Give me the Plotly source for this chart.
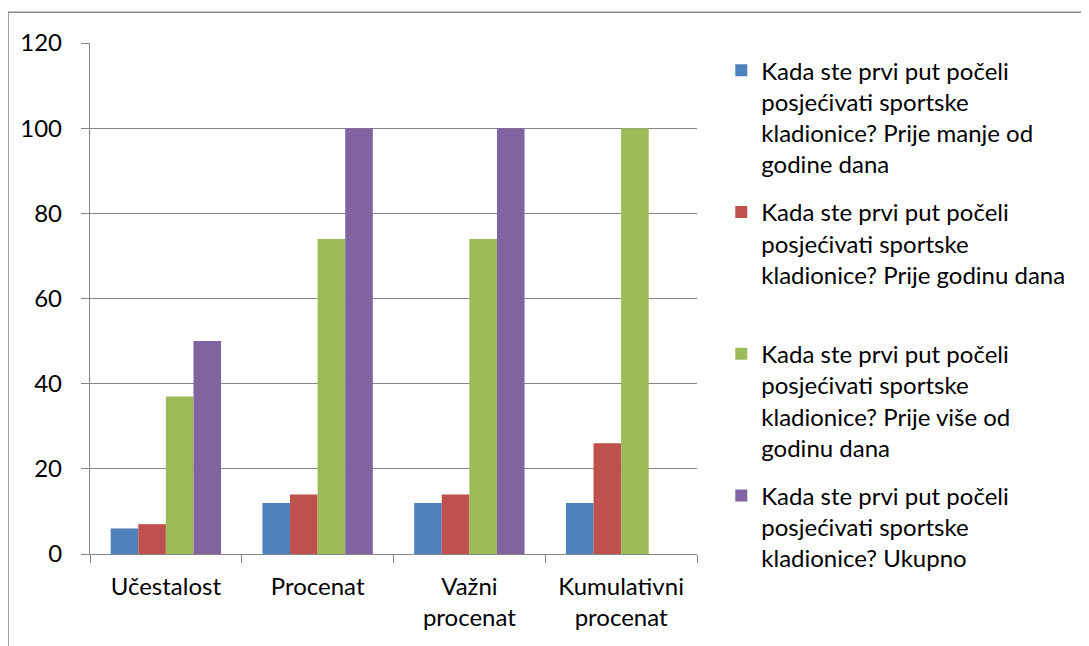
import plotly.graph_objects as go

categories = ["Učestalost", "Procenat", "Važni<br>procenat", "Kumulativni<br>procenat"]

series_names = [
    "Kada ste prvi put počeli<br>posjećivati sportske<br>kladionice? Prije manje od<br>godine dana",
    "Kada ste prvi put počeli<br>posjećivati sportske<br>kladionice? Prije godinu dana<br>&nbsp;",
    "Kada ste prvi put počeli<br>posjećivati sportske<br>kladionice? Prije više od<br>godinu dana",
    "Kada ste prvi put počeli<br>posjećivati sportske<br>kladionice? Ukupno",
]

manje_od_godine = [6, 12, 12, 12]
prije_godinu = [7, 14, 14, 26]
vise_od_godine = [37, 74, 74, 100]
ukupno = [50, 100, 100, None]

colors = ["#4F81BD", "#C0504D", "#9BBB59", "#8064A2"]
values = [manje_od_godine, prije_godinu, vise_od_godine, ukupno]

fig = go.Figure()
for i in range(4):
    fig.add_trace(go.Bar(x=categories, y=values[i], name=series_names[i],
                         marker=dict(color=colors[i], line=dict(width=0)),
                         legendgroup="g%d" % i))

# the page body adds 8px, so margins are 8px smaller on left/top
fig.update_layout(
    width=1089, height=646,
    margin=dict(l=82, r=400, t=35, b=100),
    paper_bgcolor="white", plot_bgcolor="white",
    font=dict(family="Lato", size=24, color="black"),
    barmode="group", bargap=0.2727, bargroupgap=0,
    showlegend=True,
    legend=dict(x=1.04, xanchor="left", y=0.99, yanchor="top",
                valign="top", tracegroupgap=14, traceorder="grouped",
                maxheight=620, font=dict(size=24)),
)
fig.update_yaxes(range=[0, 120], dtick=20, showgrid=True, gridcolor="#878787", gridwidth=1.3,
                 showline=True, linecolor="#878787", linewidth=1.3,
                 ticks="outside", ticklen=8, tickcolor="#878787", ticklabelstandoff=14,
                 zeroline=False)
fig.update_xaxes(showline=True, linecolor="#878787", linewidth=1.3,
                 ticks="outside", ticklen=8, tickcolor="#878787", tickson="boundaries",
                 ticklabelstandoff=11, showgrid=False)

# outer chart border
fig.add_shape(type="rect", xref="paper", yref="paper",
              x0=-0.135, x1=1.66, y0=-0.25, y1=1.06,
              line=dict(color="#878787", width=1.5), fillcolor="rgba(0,0,0,0)")

fig.write_html("out.html")
